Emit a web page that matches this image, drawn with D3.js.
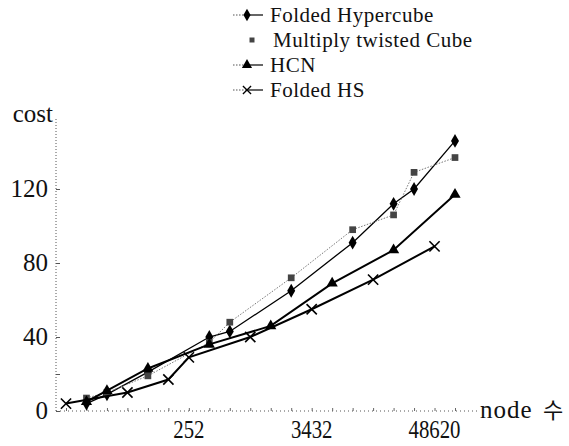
<!DOCTYPE html>
<html>
<head>
<meta charset="utf-8">
<script src="https://cdn.jsdelivr.net/npm/d3@7"></script>
<style>
  body { margin: 0; background: #fff; }
  text { font-family: "Liberation Serif", "Times New Roman", serif; fill: #111; }
</style>
</head>
<body>
<div id="chart"></div>
<script>
// node counts along the x axis (one slot per network size)
var nodes = ['2', '4', '16', '20', '64', '70', '252', '256', '512', '924', '1024',
	'2048', '3432', '4096', '8192', '12870', '16384', '32768', '48620', '65536'];
var xLabels = ['252', '3432', '48620'];
var yTicks = [0, 40, 80, 120];

// cost values, null where a network has no point
var foldedHypercube = [null, 4, 9, null, 21, null, null, 40, 43, null, null, 65, null, null, 91, null, 112, 120, null, 146];
var twistedCube     = [null, 7, 10, null, 19, null, null, 37, 48, null, null, 72, null, null, 98, null, 106, 129, null, 137];
var hcn             = [null, 5, 11, null, 23, null, null, 36, null, null, 46, null, null, 69, null, null, 87, null, null, 117];
var foldedHS        = [4, null, null, 10, null, 17, 29, null, null, 40, null, null, 55, null, null, 71, null, null, 89, null];

var seriesNames = ['Folded Hypercube', 'Multiply twisted Cube', 'HCN', 'Folded HS'];

var width = 569,
	height = 446;

var svg = d3.select('#chart').append('svg')
	.attr('width', width)
	.attr('height', height);

var x = d3.scalePoint().domain(nodes).range([66, 455]);
var y = d3.scaleLinear().domain([0, 120]).range([411, 189]);

var series = [
	{name: seriesNames[0], values: foldedHypercube, symbol: d3.symbolDiamond, size: 55, fill: '#000', stroke: '#000', width: 1.3, dash: null},
	{name: seriesNames[1], values: twistedCube, symbol: d3.symbolSquare, size: 45, fill: '#444', stroke: '#777', width: 1, dash: '1.5,1.5'},
	{name: seriesNames[2], values: hcn, symbol: d3.symbolTriangle, size: 55, fill: '#000', stroke: '#000', width: 2, dash: null},
	{name: seriesNames[3], values: foldedHS, symbol: d3.symbolTimes, size: 70, fill: 'none', stroke: '#000', width: 2, dash: null}
];

//Y axis, dotted like the scan
svg.append('line')
	.attr('x1', 56).attr('x2', 56)
	.attr('y1', y(0)).attr('y2', 118)
	.attr('stroke', '#555')
	.attr('stroke-dasharray', '1,2');

var yAxis = svg.append('g')
	.attr('transform', 'translate(56,0)')
	.call(d3.axisRight(y).tickValues([0, 20, 40, 80, 120]).tickSize(4).tickFormat(''));
yAxis.select('.domain').remove();
yAxis.selectAll('line').attr('stroke', '#555');

svg.selectAll('.ylab')
	.data(yTicks)
	.enter().append('text')
	.attr('class', 'ylab')
	.attr('x', 48)
	.attr('y', function(d) { return y(d) + 8; })
	.attr('text-anchor', 'end')
	.style('font-size', '25px')
	.text(function(d) { return d; });

svg.append('text')
	.attr('x', 53)
	.attr('y', 122)
	.attr('text-anchor', 'end')
	.style('font-size', '25px')
	.text('cost');

//X axis
svg.append('line')
	.attr('x1', 56).attr('x2', 480)
	.attr('y1', y(0)).attr('y2', y(0))
	.attr('stroke', '#555')
	.attr('stroke-dasharray', '1,3');

var xAxis = svg.append('g')
	.attr('transform', 'translate(0,' + y(0) + ')')
	.call(d3.axisTop(x).tickSize(3).tickFormat(''));
xAxis.select('.domain').remove();
xAxis.selectAll('line').attr('stroke', '#666');

svg.selectAll('.xlab')
	.data(xLabels)
	.enter().append('text')
	.attr('class', 'xlab')
	.attr('text-anchor', 'middle')
	.attr('transform', function(d) { return 'translate(' + x(d) + ',438) scale(0.8,1)'; })
	.style('font-size', '26px')
	.text(function(d) { return d; });

svg.append('text')
	.attr('x', 480)
	.attr('y', 418)
	.style('font-size', '25px')
	.style('letter-spacing', '1px')
	.text('node');

svg.append('text')
	.attr('x', 543)
	.attr('y', 418)
	.style('font-family', '"Noto Sans CJK KR"')
	.style('font-size', '22px')
	.text('수');

//Lines and markers
series.forEach(function(s) {
	var pts = s.values.map(function(v, i) { return {v: v, i: i}; }).filter(function(p) { return p.v != null; });

	svg.append('path')
		.datum(pts)
		.attr('d', d3.line().x(function(p) { return x(nodes[p.i]); }).y(function(p) { return y(p.v); }))
		.attr('fill', 'none')
		.attr('stroke', s.stroke)
		.attr('stroke-width', s.width)
		.attr('stroke-dasharray', s.dash);

	svg.selectAll(null)
		.data(pts)
		.enter().append('path')
		.attr('d', d3.symbol().type(s.symbol).size(s.size))
		.attr('transform', function(p) { return 'translate(' + x(nodes[p.i]) + ',' + y(p.v) + ')'; })
		.attr('fill', s.fill)
		.attr('stroke', s.symbol === d3.symbolTimes ? '#000' : 'none')
		.attr('stroke-width', 1.6);
});

//Legend
var legend = svg.append('g');
series.forEach(function(s, i) {
	var ly = 15 + i * 25;
	if (i !== 1) {
		legend.append('line')
			.attr('x1', 233).attr('x2', 247)
			.attr('y1', ly).attr('y2', ly)
			.attr('stroke', '#555')
			.attr('stroke-dasharray', '1.5,1.5');
		legend.append('line')
			.attr('x1', 247).attr('x2', 263)
			.attr('y1', ly).attr('y2', ly)
			.attr('stroke', '#000')
			.attr('stroke-width', 1.2);
	}
	legend.append('path')
		.attr('d', d3.symbol().type(s.symbol).size(i === 1 ? 25 : 45))
		.attr('transform', 'translate(' + (i === 1 ? 252 : 247) + ',' + ly + ')')
		.attr('fill', s.fill)
		.attr('stroke', s.symbol === d3.symbolTimes ? '#000' : 'none')
		.attr('stroke-width', 1.3);
	legend.append('text')
		.attr('x', i === 1 ? 273 : 270)
		.attr('y', ly + 7)
		.style('font-size', '21px')
		.style('letter-spacing', '0.5px')
		.text(s.name);
});
</script>
</body>
</html>
